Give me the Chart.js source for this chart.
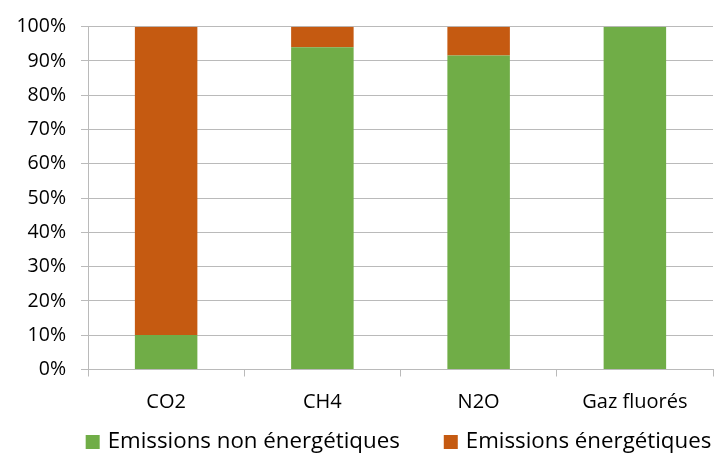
<!DOCTYPE html>
<html>
<head>
<meta charset="utf-8">
<script src="https://cdn.jsdelivr.net/npm/chart.js@4/dist/chart.umd.min.js"></script>
<style>
  html, body { margin: 0; padding: 0; background: #ffffff; }
  #wrap { width: 718px; height: 453px; position: relative; }
</style>
</head>
<body>
<div id="wrap"><canvas id="c" width="718" height="453"></canvas></div>
<script>
// Share of each greenhouse gas by emission origin (percent)
const categories = ['CO2', 'CH4', 'N2O', 'Gaz fluorés'];
const nonEnergetiques = [10.1, 94.0, 91.6, 100.0];
const energetiques = [89.9, 6.0, 8.4, 0.0];
const seriesNames = ['Emissions non énergétiques', 'Emissions énergétiques'];
const yTicks = [0, 10, 20, 30, 40, 50, 60, 70, 80, 90, 100];

const FONT = '"Open Sans", Lato, sans-serif';
const GRID = '#bababa';

// Legend row under the axis, centred on the plot area
const bottomLegend = {
  id: 'bottomLegend',
  afterDraw(chart) {
    const ctx = chart.ctx;
    const area = chart.chartArea;
    const box = 14, gapText = 8, gapItem = 44;
    ctx.save();
    ctx.font = '22.3px ' + FONT;
    const items = chart.data.datasets.map(ds => ({
      text: ds.label, color: ds.backgroundColor, w: ctx.measureText(ds.label).width
    }));
    const total = items.reduce((s, it) => s + box + gapText + it.w, 0) + gapItem * (items.length - 1);
    let x = (area.left + area.right) / 2 - total / 2 - 2;
    const baseline = chart.height - 5;
    const boxTop = chart.height - 18;
    ctx.textBaseline = 'alphabetic';
    ctx.textAlign = 'left';
    items.forEach(it => {
      ctx.fillStyle = it.color;
      ctx.fillRect(x, boxTop, box, box);
      ctx.fillStyle = '#000000';
      ctx.fillText(it.text, x + box + gapText, baseline);
      x += box + gapText + it.w + gapItem;
    });
    ctx.restore();
  }
};

new Chart(document.getElementById('c'), {
  type: 'bar',
  data: {
    labels: categories,
    datasets: [
      { label: seriesNames[0], data: nonEnergetiques, backgroundColor: '#70ad47',
        categoryPercentage: 1.0, barPercentage: 0.4 },
      { label: seriesNames[1], data: energetiques, backgroundColor: '#c55a11',
        categoryPercentage: 1.0, barPercentage: 0.4 }
    ]
  },
  plugins: [bottomLegend],
  options: {
    responsive: false,
    animation: false,
    layout: { padding: { left: 0, right: 5, top: 22, bottom: 33.5 } },
    plugins: {
      tooltip: { enabled: false },
      legend: { display: false }
    },
    scales: {
      x: {
        stacked: true,
        grid: { offset: true, drawOnChartArea: false, drawTicks: true, tickLength: 7, color: GRID },
        border: { color: GRID },
        ticks: { color: '#000000', font: { family: FONT, size: 20 }, padding: 13.4 },
        afterFit: s => { s.height = 50; }
      },
      y: {
        stacked: true,
        min: 0,
        max: 100,
        afterBuildTicks: s => { s.ticks = yTicks.map(v => ({ value: v })); },
        grid: { color: GRID, tickLength: 7 },
        border: { color: GRID },
        ticks: { color: '#000000', font: { family: FONT, size: 19.5 }, padding: 15,
                 callback: v => v + '%' },
        afterFit: s => { s.width = 88; }
      }
    }
  }
});
</script>
</body>
</html>
